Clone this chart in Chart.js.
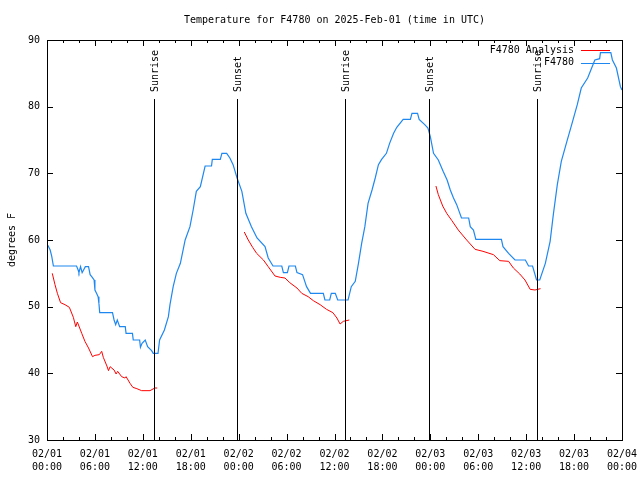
<!DOCTYPE html>
<html lang="en">
<head>
  <meta charset="utf-8">
  <title>F4780 temperature</title>
  <style>
  body { margin: 0; background: #fff; }
  </style>
</head>
<body>
<canvas id="myChart" width="640" height="480"></canvas>

<script src="https://cdn.jsdelivr.net/npm/chart.js"></script>
<script>
  const FONT = 'DejaVu Sans Mono';

  // hours since 02/01 00:00 UTC and temperature (F), observed station
  const obsHours = [0.1, 0.4, 0.6, 0.8, 3.7, 3.9, 4.0, 4.2, 4.4, 4.8, 5.2, 5.4, 5.6, 5.9, 6.0, 6.2, 6.4, 6.5, 6.6,
    8.2, 8.4, 8.6, 8.8, 9.1, 9.8, 9.9, 10.7, 10.8, 11.6, 11.7, 11.9, 12.3, 12.6, 13.1, 13.3, 13.9,
    14.1, 14.7, 15.2, 15.4, 15.8, 16.2, 16.7, 17.3, 17.9, 18.3, 18.7, 19.2, 19.8, 20.6, 20.7, 21.7, 21.9, 22.5,
    22.9, 23.3, 23.8, 24.4, 24.9, 25.6, 26.3, 27.3, 27.7, 28.3, 29.4, 29.6, 30.1, 30.3, 31.1, 31.3, 32.0,
    32.5, 33.0, 34.6, 34.8, 35.4, 35.6, 36.1, 36.4, 37.7, 38.1, 38.6, 39.0, 39.4, 39.8, 40.2, 40.7, 41.1,
    41.5, 41.9, 42.5, 42.9, 43.4, 43.8, 44.6, 45.5, 45.7, 46.4, 46.6, 47.3, 47.7, 48.0, 48.4, 49.0, 49.6,
    50.1, 50.5, 50.9, 51.3, 51.9, 52.8, 53.0, 53.4, 53.7, 56.9, 57.1, 57.8, 58.6, 59.9, 60.3, 60.8, 61.3,
    61.7, 62.4, 63.0, 63.4, 63.9, 64.4, 65.1, 65.7, 66.4, 66.9, 67.7, 68.6, 69.2, 69.3, 70.6, 70.8, 71.3, 71.8, 72.0];
  const obsTemps = [59.2, 58.5, 57.5, 56.1, 56.1, 55.5, 55.1, 56.0, 55.1, 56.0, 56.0, 54.8, 54.5, 54.0, 52.5, 52.0, 51.5, 50.5, 49.1,
    49.1, 48.0, 47.3, 48.0, 47.0, 47.0, 46.0, 46.0, 45.0, 45.0, 43.9, 44.5, 45.0, 44.0, 43.4, 43.0, 43.0,
    45.0, 46.5, 48.5, 50.3, 53.0, 55.0, 56.5, 60.0, 62.0, 64.5, 67.3, 68.0, 71.1, 71.1, 72.1, 72.1, 73.0, 73.0,
    72.3, 71.3, 69.3, 67.3, 64.0, 62.0, 60.3, 59.0, 57.3, 56.1, 56.1, 55.1, 55.1, 56.1, 56.1, 55.1, 54.8,
    53.0, 52.0, 52.0, 51.0, 51.0, 52.0, 52.0, 51.0, 51.0, 53.0, 53.8, 56.5, 59.5, 62.0, 65.5, 67.5, 69.3,
    71.3, 72.1, 73.0, 74.5, 76.0, 76.9, 78.1, 78.1, 79.0, 79.0, 78.1, 77.3, 76.8, 75.5, 73.0, 72.0, 70.3,
    69.0, 67.5, 66.3, 65.3, 63.3, 63.3, 62.0, 61.5, 60.1, 60.1, 59.0, 58.0, 57.0, 57.0, 56.1, 56.1, 54.0,
    54.0, 56.5, 59.8, 63.8, 68.3, 71.8, 74.8, 77.3, 80.3, 82.8, 84.3, 87.0, 87.2, 88.1, 88.1, 87.0, 85.8, 83.0, 82.5];

  // analysis series, null marks a gap between runs
  const anaHours = [0.66, 1.0, 1.3, 1.7, 2.25, 2.8, 3.3, 3.6, 3.8, 4.35, 4.75, 5.2, 5.7, 6.0, 6.55, 6.85, 7.05, 7.5, 7.7,
    7.9, 8.4, 8.65, 8.85, 9.35, 9.75, 9.9, 10.4, 10.75, 11.25, 11.85, 12.9, 13.5, 13.8,
    19.0,
    24.7, 25.2, 25.75, 26.25, 27.1, 27.7, 28.55, 29.2, 29.8, 30.4, 31.3, 31.9, 32.7, 33.35, 34.2, 35.0, 35.8,
    36.3, 36.7, 37.1, 37.85,
    43.0,
    48.7, 49.0, 49.55, 50.05, 50.7, 51.5, 52.55, 53.6, 54.6, 55.9, 56.7, 57.8, 58.4, 59.2, 59.85, 60.5, 61.1, 61.8];
  const anaTemps = [55.0, 53.3, 52.0, 50.6, 50.3, 49.9, 48.4, 47.0, 47.7, 46.0, 44.8, 43.8, 42.5, 42.7, 42.8, 43.3, 42.4, 41.1, 40.4,
    41.0, 40.5, 39.9, 40.3, 39.5, 39.3, 39.5, 38.5, 37.9, 37.7, 37.4, 37.4, 37.8, 37.8,
    null,
    61.2, 60.0, 58.9, 58.0, 57.0, 56.0, 54.6, 54.4, 54.3, 53.6, 52.8, 52.0, 51.5, 50.9, 50.3, 49.6, 49.1,
    48.3, 47.4, 47.8, 48.0,
    null,
    68.1, 66.8, 65.1, 64.0, 62.9, 61.5, 60.0, 58.6, 58.3, 57.8, 56.9, 56.8, 55.8, 54.9, 54.0, 52.6, 52.5, 52.7];

  const xDays  = ['02/01','02/01','02/01','02/01','02/02','02/02','02/02','02/02','02/03','02/03','02/03','02/03','02/04'];
  const xTimes = ['00:00','06:00','12:00','18:00','00:00','06:00','12:00','18:00','00:00','06:00','12:00','18:00','00:00'];
  const yTicks = [30, 40, 50, 60, 70, 80, 90];

  const sunHours  = [13.43, 23.83, 37.35, 47.87, 61.4];
  const sunLabels = ['Sunrise', 'Sunset', 'Sunrise', 'Sunset', 'Sunrise'];

  const obsPts = obsHours.map((h, i) => ({x: h, y: obsTemps[i]}));
  const anaPts = anaHours.map((h, i) => ({x: h, y: anaTemps[i]}));

  // gnuplot-ish frame, inward tics, sun lines, legend
  const gnuBits = {
    id: 'gnuBits',
    afterDatasetsDraw(chart) {
      const {ctx, chartArea: a, scales: {x, y}} = chart;
      ctx.save();
      ctx.strokeStyle = '#000';
      ctx.lineWidth = 1;
      ctx.beginPath();
      for (let h = 0; h <= 72; h += 2) {
        const px = Math.round(x.getPixelForValue(h)) + 0.5;
        const len = (h % 6 == 0) ? 6 : 3;
        ctx.moveTo(px, a.bottom); ctx.lineTo(px, a.bottom - len);
        ctx.moveTo(px, a.top); ctx.lineTo(px, a.top + len);
      }
      yTicks.forEach(v => {
        const py = Math.round(y.getPixelForValue(v)) + 0.5;
        ctx.moveTo(a.left, py); ctx.lineTo(a.left + 6, py);
        ctx.moveTo(a.right, py); ctx.lineTo(a.right - 6, py);
      });
      ctx.stroke();
      ctx.strokeRect(Math.round(a.left) + 0.5, Math.round(a.top) + 0.5,
                     Math.round(a.right - a.left), Math.round(a.bottom - a.top));

      ctx.font = '10px ' + FONT;
      ctx.fillStyle = '#000';
      sunHours.forEach((h, i) => {
        const px = Math.round(x.getPixelForValue(h)) + 0.5;
        ctx.beginPath();
        ctx.moveTo(px, a.top + 59);
        ctx.lineTo(px, a.bottom);
        ctx.stroke();
        ctx.save();
        ctx.translate(px + 1, a.top + 52);
        ctx.rotate(-Math.PI / 2);
        ctx.textAlign = 'left';
        ctx.textBaseline = 'middle';
        ctx.fillText(sunLabels[i], 0, 0);
        ctx.restore();
      });

      // legend, text right of the sample line like gnuplot
      ctx.textAlign = 'right';
      ctx.textBaseline = 'middle';
      chart.data.datasets.forEach((ds, i) => {
        const ly = a.top + 10 + i * 12.5;
        ctx.fillStyle = '#000';
        ctx.fillText(ds.label, a.right - 48, ly);
        ctx.strokeStyle = ds.borderColor;
        ctx.beginPath();
        ctx.moveTo(a.right - 41, Math.round(ly) + 0.5);
        ctx.lineTo(a.right - 12, Math.round(ly) + 0.5);
        ctx.stroke();
      });
      ctx.restore();
    }
  };

  const ctx = document.getElementById('myChart');
  const chart = new Chart(ctx, {
    type: 'line',
    data: {
      datasets: [{
        label: 'F4780 Analysis',
        data: anaPts,
        borderColor: '#ff0000',
        borderWidth: 1,
        pointRadius: 0,
        tension: 0,
        spanGaps: false
      }, {
        label: 'F4780',
        data: obsPts,
        borderColor: '#1e88f0',
        borderWidth: 1.2,
        pointRadius: 0,
        tension: 0
      }]
    },
    options: {
      responsive: false,
      animation: false,
      devicePixelRatio: 1,
      layout: {padding: {left: 0, right: 18, top: 0, bottom: 0}},
      plugins: {
        legend: {display: false},
        tooltip: {enabled: false},
        title: {
          display: true,
          fullSize: false,
          text: 'Temperature for F4780 on 2025-Feb-01 (time in UTC)',
          color: '#000',
          font: {family: FONT, size: 10, weight: 'normal', lineHeight: 1.2},
          padding: {top: 14, bottom: 14}
        }
      },
      scales: {
        x: {
          type: 'linear',
          min: 0, max: 72,
          grid: {display: false, drawTicks: false},
          border: {display: false},
          afterFit: (s) => { s.height = 40; s.paddingLeft = 0; s.paddingRight = 0; },
          afterBuildTicks: (axis) => { axis.ticks = xDays.map((d, i) => ({value: i * 6})); },
          ticks: {
            autoSkip: false,
            maxRotation: 0,
            padding: 7.5,
            color: '#000',
            font: {family: FONT, size: 10, lineHeight: 1.3},
            callback: (v, i) => [xDays[i], xTimes[i]]
          }
        },
        y: {
          min: 30, max: 90,
          grid: {display: false, drawTicks: false},
          border: {display: false},
          afterFit: (s) => { s.width = 47; s.paddingTop = 0; s.paddingBottom = 0; },
          afterBuildTicks: (axis) => { axis.ticks = yTicks.map(v => ({value: v})); },
          title: {
            display: true,
            text: 'degrees F',
            color: '#000',
            font: {family: FONT, size: 10, lineHeight: 1.2},
            padding: {top: 6, bottom: 0}
          },
          ticks: {
            padding: 7,
            color: '#000',
            font: {family: FONT, size: 10}
          }
        }
      }
    },
    plugins: [gnuBits]
  });
</script>
</body>
</html>
